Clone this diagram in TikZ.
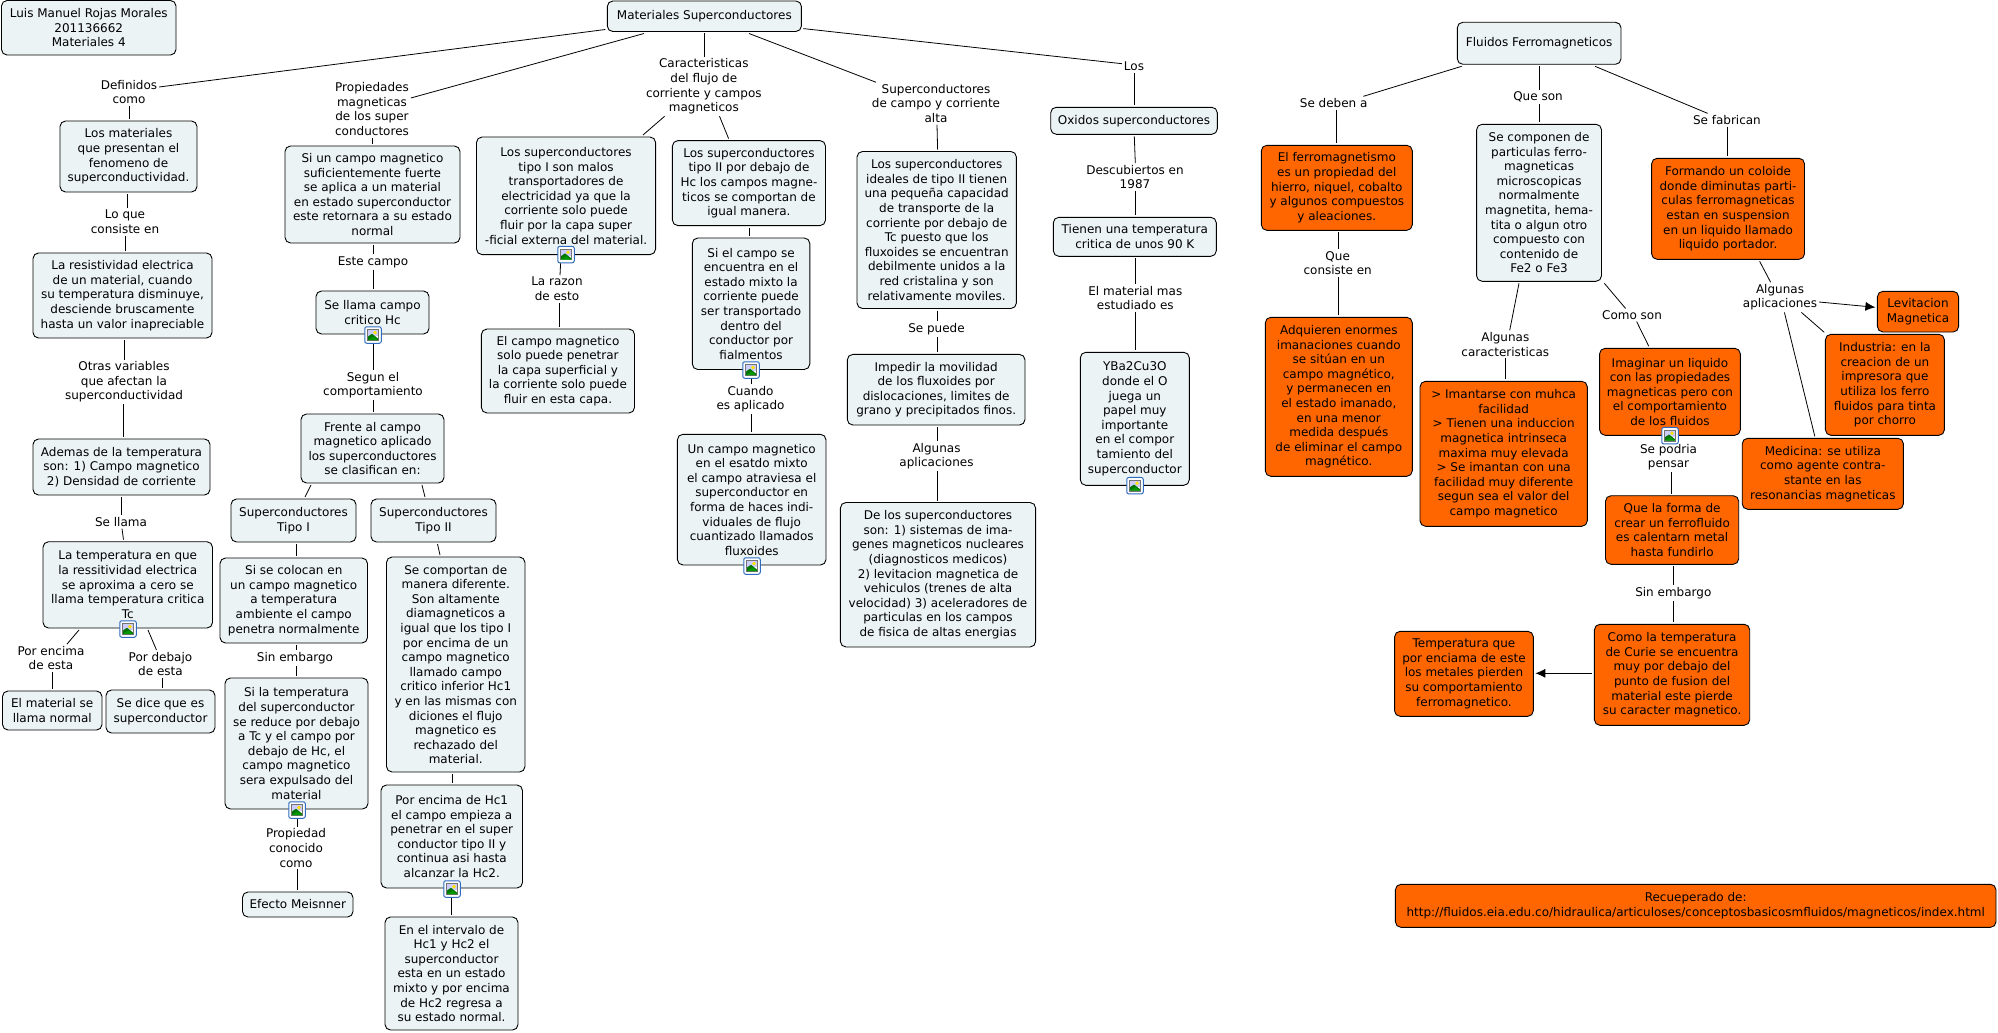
\documentclass[tikz,border=0pt]{standalone}
\usepackage{fontspec}
\setmainfont{DejaVu Sans}
\usetikzlibrary{arrows.meta}
\definecolor{boxblue}{HTML}{ECF3F5}
\definecolor{boxorange}{HTML}{FF6600}
\definecolor{iconblue}{HTML}{2F6CC0}
\tikzset{
  basebox/.style={draw=black,line width=0.9pt,rounded corners=5.5pt,inner sep=0pt,outer sep=2pt,align=center,text=black,font=\fontsize{12}{14.6}\selectfont},
  boxn/.style={basebox,fill=boxblue},
  boxo/.style={basebox,fill=boxorange},
  lab/.style={inner sep=0pt,outer sep=2pt,align=center,text=black,font=\fontsize{12}{14.6}\selectfont},
  cn/.style={draw=black,line width=0.8pt},
  ar/.style={cn,-{Latex[length=10pt,width=9pt]}},
  iconbox/.style={draw=iconblue,line width=1pt,fill=white,rounded corners=2pt,minimum size=16.5pt,inner sep=0pt,outer sep=0.5pt}
}
\newcommand{\bx}[7][boxn]{%
  \pgfmathsetmacro{\cxx}{(#3+#5)/2}\pgfmathsetmacro{\cyy}{(#4+#6)/2}%
  \pgfmathsetmacro{\ww}{#5-#3}\pgfmathsetmacro{\hh}{#6-#4}%
  \node[#1,minimum width=\ww pt,minimum height=\hh pt] (#2) at (\cxx,\cyy) {#7};}
\newcommand{\lb}[4]{\node[lab] (#1) at (#2,#3) {#4};}
\newcommand{\vl}[3]{\draw[cn] (#1,0 |- #2) -- (#1,0 |- #3);}
\newcommand{\sll}[4]{\draw[cn] (#1,0 |- #2) -- (#3,0 |- #4);}
\newcommand{\ico}[3]{%
  \node[iconbox] (#1) at (#2,#3) {};
  \begin{scope}[shift={(#2,#3)}]
    \fill[black!55] (-5.8,-5.8) rectangle (5.8,5.8);
    \fill[white] (-5,-5) rectangle (5,5);
    \fill[white!80!blue] (-5,-5) rectangle (5,1);
    \fill[yellow!85!orange] (2,-2.4) circle (1.9);
    \fill[green!45!black] (-5,5) -- (-5,1.5) -- (-1,-1.2) -- (5,3.5) -- (5,5) -- cycle;
    \fill[green!60!black] (-5,5) -- (0.5,1.5) -- (5,5) -- cycle;
  \end{scope}}
\begin{document}
\begin{tikzpicture}[x=1pt,y=-1pt]
\path[use as bounding box] (0,0) rectangle (1998,1033);
% --- boxes, left map
\bx{autor}{1.5}{0.5}{176}{55}{Luis Manuel Rojas Morales\\201136662\\Materiales 4}
\bx{main}{607.3}{1}{801.4}{31.5}{Materiales Superconductores}
\bx{mats}{60}{121}{197}{192}{Los materiales\\que presentan el\\fenomeno de\\superconductividad.}
\bx{resis}{33}{253}{212}{338}{La resistividad electrica\\de un material, cuando\\su temperatura disminuye,\\desciende bruscamente\\hasta un valor inapreciable}
\bx{ademas}{33}{439}{210}{495}{Ademas de la temperatura\\son: 1) Campo magnetico\\2) Densidad de corriente}
\bx{tempc}{43}{541.7}{212.5}{628}{La temperatura en que\\la ressitividad electrica\\se aproxima a cero se\\llama temperatura critica\\Tc}
\bx{normal}{2.5}{691}{102}{730}{El material se\\llama normal}
\bx{sedice}{106}{690}{215}{733}{Se dice que es\\superconductor}
\bx{sicampo}{285}{146}{460}{243}{Si un campo magnetico\\suficientemente fuerte\\se aplica a un material\\en estado superconductor\\este retornara a su estado\\normal}
\bx{hc}{316}{291}{429}{334}{Se llama campo\\critico Hc}
\bx{frente}{301}{414}{444}{483}{Frente al campo\\magnetico aplicado\\los superconductores\\se clasifican en:}
\bx{tipoi}{231}{499}{356}{542}{Superconductores\\Tipo I}
\bx{tipoii}{371}{499}{496}{542}{Superconductores\\Tipo II}
\bx{colocan}{220}{558}{367.5}{643}{Si se colocan en\\un campo magnetico\\a temperatura\\ambiente el campo\\penetra normalmente}
\bx{sitemp}{225}{678}{368}{809}{Si la temperatura\\del superconductor\\se reduce por debajo\\a Tc y el campo por\\debajo de Hc, el\\campo magnetico\\sera expulsado del\\material}
\bx{meis}{242.5}{892}{353}{917}{Efecto Meisnner}
\bx{comport}{386.5}{557}{525}{772}{Se comportan de\\manera diferente.\\Son altamente\\diamagneticos a\\igual que los tipo I\\por encima de un\\campo magnetico\\llamado campo\\critico inferior Hc1\\y en las mismas con\\diciones el flujo\\magnetico es\\rechazado del\\material.}
\bx{hcuno}{381}{785}{522.5}{888}{Por encima de Hc1\\el campo empieza a\\penetrar en el super\\conductor tipo II y\\continua asi hasta\\alcanzar la Hc2.}
\bx{interv}{385}{917}{518}{1030}{En el intervalo de\\Hc1 y Hc2 el\\superconductor\\esta en un estado\\mixto y por encima\\de Hc2 regresa a\\su estado normal.}
\bx{supi}{476.5}{137}{655.6}{254.6}{Los superconductores\\tipo I son malos\\transportadores de\\electricidad ya que la\\corriente solo puede\\fluir por la capa super\\-ficial externa del material.}
\bx{elcampo}{481.4}{329}{634.5}{413}{El campo magnetico\\solo puede penetrar\\la capa superficial y\\la corriente solo puede\\fluir en esta capa.}
\bx{supii}{672.4}{140.6}{825.5}{225.6}{Los superconductores\\tipo II por debajo de\\Hc los campos magne-\\ticos se comportan de\\igual manera.}
\bx{siel}{692.3}{238}{809.8}{369.5}{Si el campo se\\encuentra en el\\estado mixto la\\corriente puede\\ser transportado\\dentro del\\conductor por\\fialmentos}
\bx{uncampo}{677.4}{434.3}{826}{565}{Un campo magnetico\\en el esatdo mixto\\el campo atraviesa el\\superconductor en\\forma de haces indi-\\viduales de flujo\\cuantizado llamados\\fluxoides}
\bx{ideales}{857}{151.5}{1016.4}{308.5}{Los superconductores\\ideales de tipo II tienen\\una pequeña capacidad\\de transporte de la\\corriente por debajo de\\Tc puesto que los\\fluxoides se encuentran\\debilmente unidos a la\\red cristalina y son\\relativamente moviles.}
\bx{impedir}{847.3}{354.4}{1025}{425}{Impedir la movilidad\\de los fluxoides por\\dislocaciones, limites de\\grano y precipitados finos.}
\bx{delos}{840.4}{502.5}{1035.6}{647}{De los superconductores\\son: 1) sistemas de ima-\\genes magneticos nucleares\\(diagnosticos medicos)\\2) levitacion magnetica de\\vehiculos (trenes de alta\\velocidad) 3) aceleradores de\\particulas en los campos\\de fisica de altas energias}
\bx{oxidos}{1050.7}{107.3}{1217.3}{134.3}{Oxidos superconductores}
\bx{tienen}{1053.3}{217.3}{1216.3}{256.3}{Tienen una temperatura\\critica de unos 90 K}
\bx{ybco}{1080.3}{352.3}{1189.3}{485.3}{YBa2Cu3O\\donde el O\\juega un\\papel muy\\importante\\en el compor\\tamiento del\\superconductor}
% --- boxes, right map
\bx{fluidos}{1457.3}{22.3}{1621}{64.3}{Fluidos Ferromagneticos}
\bx[boxo]{ferro}{1261.3}{145.3}{1412.3}{230.3}{El ferromagnetismo\\es un propiedad del\\hierro, niquel, cobalto\\y algunos compuestos\\y aleaciones.}
\bx[boxo]{adq}{1265.3}{317.3}{1412.3}{476.3}{Adquieren enormes\\imanaciones cuando\\se sitúan en un\\campo magnético,\\y permanecen en\\el estado imanado,\\en una menor\\medida después\\de eliminar el campo\\magnético.}
\bx{compon}{1476.6}{124.3}{1601.5}{281.3}{Se componen de\\particulas ferro-\\magneticas\\microscopicas\\normalmente\\magnetita, hema-\\tita o algun otro\\compuesto con\\contenido de\\Fe2 o Fe3}
\bx[boxo]{imant}{1420}{381.3}{1587.3}{526.3}{> Imantarse con muhca\\facilidad\\> Tienen una induccion\\magnetica intrinseca\\maxima muy elevada\\> Se imantan con una\\facilidad muy diferente\\segun sea el valor del\\campo magnetico}
\bx[boxo]{imag}{1599.6}{348.3}{1740.3}{435.3}{Imaginar un liquido\\con las propiedades\\magneticas pero con\\el comportamiento\\de los fluidos}
\bx[boxo]{forma}{1605.5}{495.7}{1738.7}{564.3}{Que la forma de\\crear un ferrofluido\\es calentarn metal\\hasta fundirlo}
\bx[boxo]{curie}{1594.4}{624.3}{1749.7}{725.3}{Como la temperatura\\de Curie se encuentra\\muy por debajo del\\punto de fusion del\\material este pierde\\su caracter magnetico.}
\bx[boxo]{tcurie}{1394.6}{631.3}{1533.3}{716.3}{Temperatura que\\por enciama de este\\los metales pierden\\su comportamiento\\ferromagnetico.}
\bx[boxo]{coloide}{1651.6}{158.3}{1804.5}{259.3}{Formando un coloide\\donde diminutas parti-\\culas ferromagneticas\\estan en suspension\\en un liquido llamado\\liquido portador.}
\bx[boxo]{levit}{1877.4}{291.3}{1958.6}{332}{Levitacion\\Magnetica}
\bx[boxo]{indus}{1825.4}{334.3}{1944.4}{435.3}{Industria: en la\\creacion de un\\impresora que\\utiliza los ferro\\fluidos para tinta\\por chorro}
\bx[boxo]{medic}{1742.2}{438.3}{1903.4}{509.3}{Medicina: se utiliza\\como agente contra-\\stante en las\\resonancias magneticas}
\bx[boxo]{recup}{1395.4}{884.3}{1996}{927.3}{Recueperado de:\\http://fluidos.eia.edu.co/hidraulica/articuloses/conceptosbasicosmfluidos/magneticos/index.html}
% --- labels
\lb{def}{129}{92}{Definidos\\como}
\lb{loq}{125}{222}{Lo que\\consiste en}
\lb{otr}{124}{382}{Otras variables\\que afectan la\\superconductividad}
\lb{sel}{121}{522}{Se llama}
\lb{pen}{51}{658}{Por encima\\de esta}
\lb{pde}{160.5}{664}{Por debajo\\de esta}
\lb{prop}{372}{109}{Propiedades\\magneticas\\de los super\\conductores}
\lb{est}{373}{262}{Este campo}
\lb{seg}{373}{385}{Segun el\\comportamiento}
\lb{sina}{295}{658}{Sin embargo}
\lb{pco}{296}{848}{Propiedad\\conocido\\como}
\lb{car}{703.8}{86.5}{Caracteristicas\\del flujo de\\corriente y campos\\magneticos}
\lb{raz}{557}{289}{La razon\\de esto}
\lb{cua}{750.5}{399}{Cuando\\es aplicado}
\lb{scc}{936}{103.5}{Superconductores\\de campo y corriente\\alta}
\lb{sep}{936.5}{329}{Se puede}
\lb{alga}{936.5}{456}{Algunas\\aplicaciones}
\lb{los}{1134}{66.7}{Los}
\lb{des}{1135}{177}{Descubiertos en\\1987}
\lb{elm}{1135.3}{298}{El material mas\\estudiado es}
\lb{sdb}{1333.7}{103}{Se deben a}
\lb{que}{1337.7}{263}{Que\\consiste en}
\lb{qso}{1538}{97}{Que son}
\lb{fab}{1726.9}{120}{Se fabrican}
\lb{acr}{1505.3}{344.3}{Algunas\\caracteristicas}
\lb{cso}{1632}{315}{Como son}
\lb{pod}{1668.5}{457.3}{Se podria\\pensar}
\lb{sinb}{1673.3}{593}{Sin embargo}
\lb{apl}{1780}{297.3}{Algunas\\aplicaciones}
% --- icons
\ico{icotc}{128}{629}
\ico{icohc}{373}{335}
\ico{icosi}{297}{810}
\ico{icohu}{452}{889}
\ico{icosp}{566}{254.6}
\ico{icoel}{751}{370}
\ico{icoun}{752}{566}
\ico{icoyb}{1135}{485.7}
\ico{icoim}{1670}{435.7}
% --- connectors, left map
\draw[cn] (main.west |- 0,29.5) -- (def.east |- 0,87);
\vl{129}{def.south}{mats.north}
\vl{127}{mats.south}{loq.north}
\vl{125}{loq.south}{resis.north}
\vl{124}{resis.south}{otr.north}
\vl{123.5}{otr.south}{ademas.north}
\vl{121}{ademas.south}{sel.north}
\sll{122}{sel.south}{123.5}{tempc.north}
\sll{79}{tempc.south}{67}{pen.north}
\vl{52.5}{pen.south}{normal.north}
\sll{148}{tempc.south}{156.5}{pde.north}
\vl{162.5}{pde.south}{sedice.north}
\draw[cn] (644,0 |- main.south) -- (prop.east |- 0,98);
\vl{372}{prop.south}{sicampo.north}
\vl{373}{sicampo.south}{est.north}
\vl{373}{est.south}{hc.north}
\vl{373}{icohc.south}{seg.north}
\vl{373}{seg.south}{frente.north}
\sll{311}{frente.south}{305}{tipoi.north}
\sll{422}{frente.south}{425}{tipoii.north}
\vl{296}{tipoi.south}{colocan.north}
\vl{296}{colocan.south}{sina.north}
\vl{296}{sina.south}{sitemp.north}
\vl{297}{icosi.south}{pco.north}
\vl{297.5}{pco.south}{meis.north}
\sll{437.5}{tipoii.south}{440}{comport.north}
\vl{452.5}{comport.south}{hcuno.north}
\vl{451.5}{icohu.south}{interv.north}
\vl{704.5}{main.south}{car.north}
\sll{664.7}{car.south}{643}{supi.north}
\sll{719.5}{car.south}{728.6}{supii.north}
\sll{560.6}{icosp.south}{560}{raz.north}
\vl{559.5}{raz.south}{elcampo.north}
\vl{749.3}{supii.south}{siel.north}
\vl{751}{icoel.south}{cua.north}
\vl{751}{cua.south}{uncampo.north}
\sll{749}{main.south}{876}{scc.north}
\sll{937}{scc.south}{937.6}{ideales.north}
\vl{937}{ideales.south}{sep.north}
\vl{937}{sep.south}{impedir.north}
\vl{937.6}{impedir.south}{alga.north}
\vl{937.6}{alga.south}{delos.north}
\draw[cn] (main.east |- 0,28.6) -- (los.west |- 0,63.7);
\vl{1134.3}{los.south}{oxidos.north}
\sll{1134.3}{oxidos.south}{1135.3}{des.north}
\vl{1135.6}{des.south}{tienen.north}
\vl{1135.3}{tienen.south}{elm.north}
\vl{1135.3}{elm.south}{ybco.north}
% --- connectors, right map
\sll{1461.7}{fluidos.south}{1363.3}{sdb.north}
\vl{1336.3}{sdb.south}{ferro.north}
\vl{1338.3}{ferro.south}{que.north}
\vl{1338.3}{que.south}{adq.north}
\vl{1539.3}{fluidos.south}{qso.north}
\vl{1539.3}{qso.south}{compon.north}
\sll{1595}{fluidos.south}{1707.6}{fab.north}
\vl{1727.3}{fab.south}{coloide.north}
\sll{1519}{compon.south}{1509.7}{acr.north}
\vl{1505.7}{acr.south}{imant.north}
\sll{1604.3}{compon.south}{1625.6}{cso.north}
\sll{1636.6}{cso.south}{1648.8}{imag.north}
\vl{1671.3}{pod.south}{forma.north}
\vl{1673.3}{forma.south}{sinb.north}
\vl{1673.3}{sinb.south}{curie.north}
\sll{1759.6}{coloide.south}{1770.6}{apl.north}
\draw[ar] (apl.east |- 0,302) -- (levit.west |- 0,307.3);
\sll{1801.4}{apl.south}{1824.2}{indus.north}
\sll{1784.4}{apl.south}{1814.8}{medic.north}
\draw[ar] (curie.west |- 0,673.3) -- (tcurie.east |- 0,673.3);
\end{tikzpicture}
\end{document}
